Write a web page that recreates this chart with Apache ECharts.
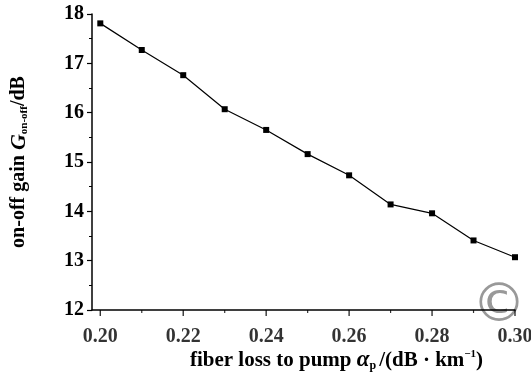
<!DOCTYPE html>
<html>
<head>
<meta charset="utf-8">
<script src="https://cdn.jsdelivr.net/npm/echarts@6/dist/echarts.min.js"></script>
<style>html,body{margin:0;padding:0;background:#fff}#c{width:531px;height:372px}</style>
</head>
<body>
<div id="c"></div>
<script>
const xValues = [0.20, 0.21, 0.22, 0.23, 0.24, 0.25, 0.26, 0.27, 0.28, 0.29, 0.30];
const gainValues = [17.81, 17.27, 16.76, 16.07, 15.65, 15.16, 14.73, 14.14, 13.96, 13.41, 13.07];
const yTicks = [12, 13, 14, 15, 16, 17, 18];
const xTicks = [0.20, 0.22, 0.24, 0.26, 0.28, 0.30];

const font = 'Liberation Serif';
const chart = echarts.init(document.getElementById('c'), null, {renderer: 'canvas'});
const labelStyle = {color: '#000', fontFamily: font, fontSize: 20, fontWeight: 'bold'};
chart.setOption({
  animation: false,
  grid: {left: 92, right: 16, top: 14, bottom: 62, containLabel: false, outerBoundsMode: 'none'},
  xAxis: {
    type: 'value', min: 0.198, max: 0.30,
    axisLine: {onZero: false, lineStyle: {color: '#000', width: 1.5}},
    axisTick: {show: false},
    minorTick: {show: false},
    splitLine: {show: false},
    axisLabel: {show: false},
    name: '{n|fiber loss to pump }{a|α}{s|p}{n|/(dB · km}{u|−1}{n|)}',
    nameLocation: 'middle', nameGap: 39,
    nameTextStyle: {
      padding: [0, 0, 0, 66],
      rich: {
        n: {fontFamily: font, fontSize: 21, fontWeight: 'bold', color: '#000'},
        a: {fontFamily: font, fontSize: 23, fontStyle: 'italic', fontWeight: 'bold', color: '#000'},
        s: {fontFamily: font, fontSize: 12, fontWeight: 'bold', color: '#000', verticalAlign: 'bottom', padding: [9, 3, 0, 0]},
        u: {fontFamily: font, fontSize: 11, fontWeight: 'bold', color: '#000', verticalAlign: 'top', padding: [0, 0, 9, 0]}
      }
    }
  },
  yAxis: {
    type: 'value', min: 12, max: 18, interval: 1,
    axisLine: {show: true, lineStyle: {color: '#000', width: 1.5}},
    axisTick: {show: true, length: 5, lineStyle: {color: '#000', width: 1.2}},
    minorTick: {show: true, splitNumber: 2, length: 3, lineStyle: {color: '#000'}},
    splitLine: {show: false},
    axisLabel: Object.assign({margin: 8}, labelStyle),
    name: '{n|on-off gain }{g|G}{s|on-off}{n|/dB}',
    nameLocation: 'middle', nameGap: 62, nameRotate: 90,
    nameTextStyle: {
      rich: {
        n: {fontFamily: font, fontSize: 20, fontWeight: 'bold', color: '#000'},
        g: {fontFamily: font, fontSize: 22, fontStyle: 'italic', fontWeight: 'bold', color: '#000'},
        s: {fontFamily: font, fontSize: 11, fontWeight: 'bold', color: '#000', verticalAlign: 'bottom', padding: [9, 0, 0, 0]}
      }
    }
  },
  series: [
    {
      type: 'line',
      data: xValues.map((x, i) => [x, gainValues[i]]),
      symbol: 'rect', symbolSize: 6,
      itemStyle: {color: '#000'},
      lineStyle: {color: '#000', width: 1.2}
    },
    {
      type: 'scatter',
      data: xTicks.map(x => [x, 12]),
      symbol: 'rect', symbolSize: [1.4, 6], symbolOffset: [0, 3],
      itemStyle: {color: '#000'},
      label: Object.assign({show: true, position: 'bottom', distance: 11, formatter: p => p.value[0].toFixed(2)}, labelStyle),
      silent: true, z: 1
    },
    {
      type: 'scatter',
      data: xValues.filter((x, i) => i % 2 === 1).map(x => [x, 12]),
      symbol: 'rect', symbolSize: [1.2, 3], symbolOffset: [0, 1.5],
      itemStyle: {color: '#000'},
      silent: true, z: 1
    }
  ],
  graphic: [
    {type: 'text', left: 472, top: 280, silent: true,
     style: {text: '©', font: '54px "DejaVu Sans"', fill: '#999'}}
  ]
});
</script>
</body>
</html>
